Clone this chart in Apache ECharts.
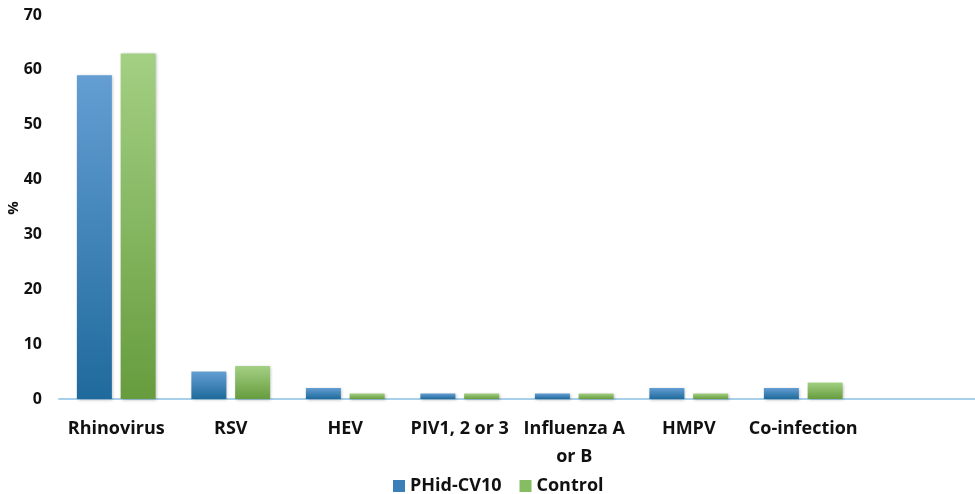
<!DOCTYPE html>
<html><head><meta charset="utf-8">
<script src="https://cdn.jsdelivr.net/npm/echarts@6/dist/echarts.min.js"></script>
<style>html,body{margin:0;padding:0;background:#fff}#c{width:975px;height:494px}</style>
</head><body><div id="c"></div>
<script>
var categories = ['Rhinovirus', 'RSV', 'HEV', 'PIV1, 2 or 3', 'Influenza A\nor B', 'HMPV', 'Co-infection', ''];
var phidValues = [59, 5, 2, 1, 1, 2, 2, null];
var controlValues = [63, 6, 1, 1, 1, 1, 3, null];
var yTicks = [0, 10, 20, 30, 40, 50, 60, 70];
var seriesNames = ['PHid-CV10', 'Control'];
var yAxisTitle = '%';

var font = '"Open Sans", Lato, sans-serif';
function grad(top, bottom) {
  return new echarts.graphic.LinearGradient(0, 0, 0, 1, [
    {offset: 0, color: top}, {offset: 1, color: bottom}
  ]);
}
var chart = echarts.init(document.getElementById('c'));
chart.setOption({
  animation: false,
  grid: {left: 59, right: 0, top: 15, bottom: 95, containLabel: false, outerBoundsMode: 'none'},
  graphic: [{
    type: 'text', x: 14, y: 208, rotation: Math.PI / 2,
    style: {text: yAxisTitle, font: 'bold 15px "Open Sans", sans-serif', fill: '#111', align: 'center', verticalAlign: 'middle'}
  }],
  legend: {
    left: 388, top: 472, itemWidth: 12, itemHeight: 12, itemGap: 18,
    textStyle: {fontFamily: font, fontWeight: 'bold', fontSize: 18, color: '#111'},
    data: [{name: seriesNames[0], icon: 'rect', itemStyle: {color: '#3a7fb8'}},
           {name: seriesNames[1], icon: 'rect', itemStyle: {color: '#86bd63'}}]
  },
  xAxis: {
    type: 'category', data: categories,
    axisLine: {lineStyle: {color: '#a9d0ea', width: 2}},
    axisTick: {show: false},
    axisLabel: {fontFamily: font, fontWeight: 'bold', fontSize: 18, color: '#111', margin: 16, lineHeight: 28, interval: 0}
  },
  yAxis: {
    type: 'value', min: 0, max: 70, interval: 10,
    axisLine: {show: false}, axisTick: {show: false}, splitLine: {show: false},
    axisLabel: {fontFamily: font, fontWeight: 'bold', fontSize: 16, color: '#111', margin: 17,
      formatter: function (v) { return yTicks.indexOf(v) >= 0 ? String(v) : ''; }}
  },
  series: [
    {name: seriesNames[0], type: 'bar', data: phidValues, barWidth: 35, barGap: '25%',
     itemStyle: {color: grad('#649ed3', '#1f6a9c'), shadowColor: 'rgba(0,0,0,0.25)', shadowBlur: 3, shadowOffsetX: 1, shadowOffsetY: 1}},
    {name: seriesNames[1], type: 'bar', data: controlValues, barWidth: 35,
     itemStyle: {color: grad('#a3d083', '#679c3e'), shadowColor: 'rgba(0,0,0,0.25)', shadowBlur: 3, shadowOffsetX: 1, shadowOffsetY: 1}}
  ]
});
</script></body></html>
